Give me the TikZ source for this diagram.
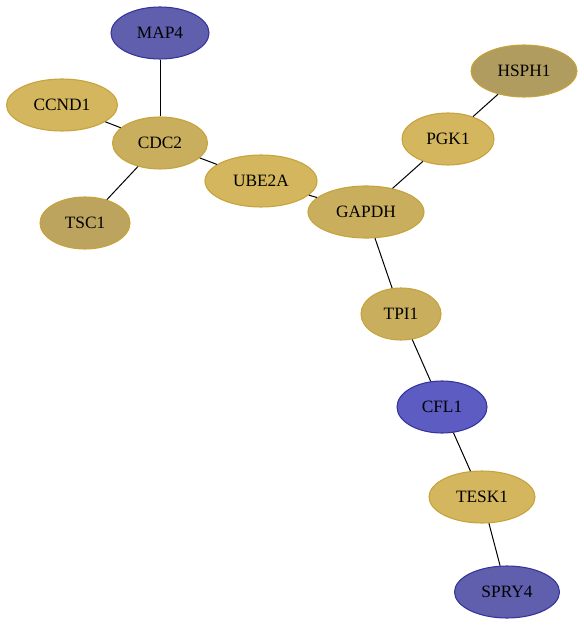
\documentclass[tikz,border=0pt]{standalone}
\usepackage{fontspec}
\setmainfont{Liberation Serif}
\usepackage{tikz}
\usetikzlibrary{shapes.geometric}
\definecolor{GoldFill}{HTML}{D3B65D}
\definecolor{GoldDark}{HTML}{C9AE5E}
\definecolor{GoldDull}{HTML}{BCA45E}
\definecolor{GoldDeep}{HTML}{B09C5E}
\definecolor{GoldLine}{HTML}{C8A23A}
\definecolor{BlueFill}{HTML}{5F5FAE}
\definecolor{BlueBright}{HTML}{5C5CC2}
\definecolor{BlueLine}{HTML}{34349A}
\tikzset{
  gene/.style={ellipse,draw=GoldLine,fill=GoldFill,line width=0.8pt,inner sep=0pt,
               minimum height=39pt,font=\fontsize{13}{15}\selectfont},
  bluegene/.style={gene,draw=BlueLine,fill=BlueFill},
  link/.style={draw=black,line width=0.75pt}
}
\begin{document}
\begin{tikzpicture}[x=0.75pt,y=-0.75pt]
  \useasboundingbox (0,0) rectangle (584,627);
  \node[bluegene,minimum width=73.5pt] (map4) at (160,33) {MAP4};
  \node[gene,minimum width=83.25pt] (ccnd1) at (62,105) {CCND1};
  \node[gene,minimum width=71.25pt,fill=GoldDark] (cdc2) at (160,143) {CDC2};
  \node[gene,minimum width=67.5pt,fill=GoldDull] (tsc1) at (85,223) {TSC1};
  \node[gene,minimum width=84pt] (ube2a) at (261,181) {UBE2A};
  \node[gene,minimum width=87pt,fill=GoldDark] (gapdh) at (366,212) {GAPDH};
  \node[gene,minimum width=69pt] (pgk1) at (448,139) {PGK1};
  \node[gene,minimum width=79.5pt,fill=GoldDeep] (hsph1) at (524,71) {HSPH1};
  \node[gene,minimum width=60pt,fill=GoldDark] (tpi1) at (401,314) {TPI1};
  \node[bluegene,minimum width=67.5pt,fill=BlueBright] (cfl1) at (442,407) {CFL1};
  \node[gene,minimum width=79.5pt] (tesk1) at (482,497) {TESK1};
  \node[bluegene,minimum width=78.75pt] (spry4) at (507,592) {SPRY4};

  \draw[link] (map4) -- (cdc2);
  \draw[link] (ccnd1) -- (cdc2);
  \draw[link] (cdc2) -- (tsc1);
  \draw[link] (cdc2) -- (ube2a);
  \draw[link] (ube2a) -- (gapdh);
  \draw[link] (gapdh) -- (pgk1);
  \draw[link] (pgk1) -- (hsph1);
  \draw[link] (gapdh) -- (tpi1);
  \draw[link] (tpi1) -- (cfl1);
  \draw[link] (cfl1) -- (tesk1);
  \draw[link] (tesk1) -- (spry4);
\end{tikzpicture}
\end{document}
